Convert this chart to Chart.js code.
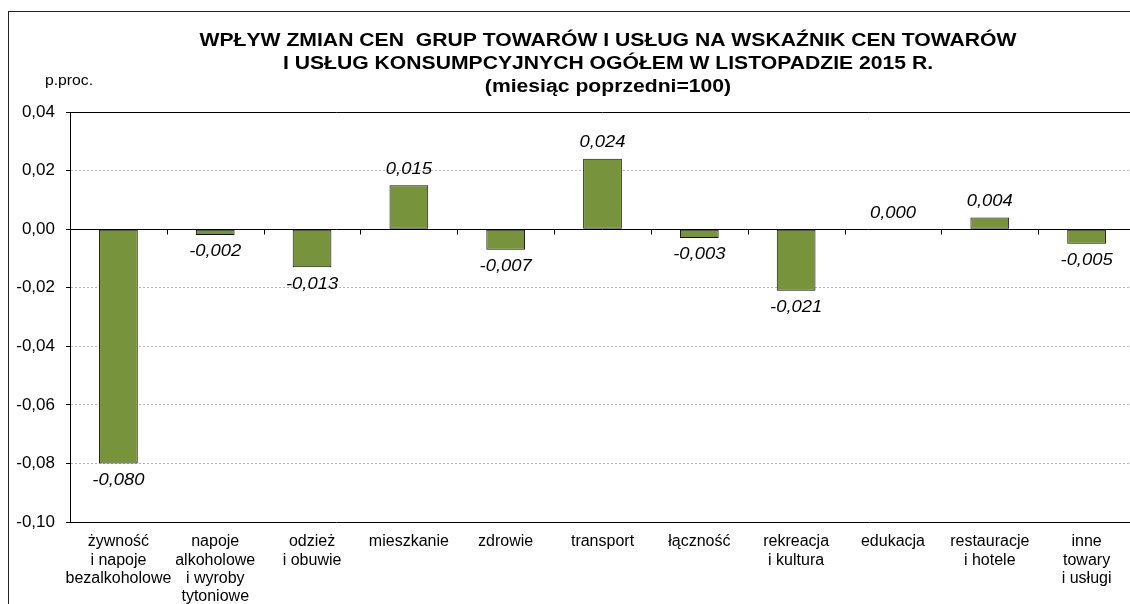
<!DOCTYPE html>
<html>
<head>
<meta charset="utf-8">
<script src="https://cdn.jsdelivr.net/npm/chart.js@4.4.0/dist/chart.umd.min.js"></script>
<style>
    html, body { margin: 0; padding: 0; overflow: hidden; background: #fff; }
    #frame { position: absolute; left: 8px; top: 11px; width: 1200px; height: 700px; border-left: 1px solid #222; border-top: 1px solid #222; }
    #wrap { position: absolute; left: 0; top: 0; width: 1140px; height: 604px; }
</style>
</head>
<body>
<div id="frame"></div>
<div id="wrap"><canvas id="myChart"></canvas></div>
<script>
const categories = [
    ['żywność', 'i napoje', 'bezalkoholowe'],
    ['napoje', 'alkoholowe', 'i wyroby', 'tytoniowe'],
    ['odzież', 'i obuwie'],
    ['mieszkanie'],
    ['zdrowie'],
    ['transport'],
    ['łączność'],
    ['rekreacja', 'i kultura'],
    ['edukacja'],
    ['restauracje', 'i hotele'],
    ['inne', 'towary', 'i usługi']
];
const values = [-0.080, -0.002, -0.013, 0.015, -0.007, 0.024, -0.003, -0.021, 0.000, 0.004, -0.005];
const titleLines = [
    'WPŁYW ZMIAN CEN  GRUP TOWARÓW I USŁUG NA WSKAŹNIK CEN TOWARÓW',
    'I USŁUG KONSUMPCYJNYCH OGÓŁEM W LISTOPADZIE 2015 R.',
    '(miesiąc poprzedni=100)'
];
const unitLabel = 'p.proc.';
const yMin = -0.10;
const yMax = 0.04;
const yStep = 0.02;

const FONT = '"Liberation Sans", Arial, sans-serif';

const fmt = (v, d) => {
    let s = v.toFixed(d);
    if (/^-0[.,]0+$/.test(s)) s = s.slice(1);
    return s.replace('.', ',');
};

// the source picture is a bit wider than tall, so text gets stretched sideways
function wideText(ctx, text, x, y, sx) {
    ctx.save();
    ctx.translate(x, y);
    ctx.scale(sx, 1);
    ctx.fillText(text, 0, 0);
    ctx.restore();
}

const decorPlugin = {
    id: 'decor',
    beforeDatasetsDraw(chart) {
        const { ctx, chartArea: a, scales: { x, y } } = chart;
        const y0 = Math.round(y.getPixelForValue(0)) + 0.5;
        const yTop = Math.round(y.getPixelForValue(yMax)) + 0.5;
        ctx.save();
        ctx.strokeStyle = '#000';
        ctx.lineWidth = 1;
        ctx.beginPath();
        ctx.moveTo(a.left, yTop);
        ctx.lineTo(a.right, yTop);
        ctx.moveTo(a.left, y0);
        ctx.lineTo(a.right, y0);
        // category tick marks on the zero line
        for (let i = 1; i < categories.length; i++) {
            const px = Math.round((x.getPixelForValue(i - 1) + x.getPixelForValue(i)) / 2) + 0.5;
            ctx.moveTo(px, y0);
            ctx.lineTo(px, y0 + 5);
        }
        ctx.stroke();
        ctx.restore();
    },
    afterDatasetsDraw(chart) {
        const { ctx } = chart;
        const meta = chart.getDatasetMeta(0);
        ctx.save();
        ctx.font = 'italic 16px ' + FONT;
        ctx.fillStyle = '#000';
        ctx.textAlign = 'center';
        ctx.textBaseline = 'middle';
        meta.data.forEach((bar, i) => {
            const v = values[i];
            const ty = v >= 0 ? bar.y - 16 : bar.y + 17;
            wideText(ctx, fmt(v, 3), bar.x, ty, 1.15);
        });
        ctx.restore();
    },
    afterDraw(chart) {
        const { ctx, chartArea: a } = chart;
        ctx.save();
        ctx.fillStyle = '#000';
        ctx.textAlign = 'center';
        ctx.textBaseline = 'middle';
        ctx.font = 'bold 18px ' + FONT;
        titleLines.forEach((t, i) => wideText(ctx, t, 608, 41 + i * 23, 1.175));
        ctx.font = '15px ' + FONT;
        wideText(ctx, unitLabel, a.left - 1, 81, 1.05);
        ctx.restore();
    }
};

const ctx = document.getElementById('myChart').getContext('2d');

const chart = new Chart(ctx, {
    type: 'bar',
    data: {
        labels: categories,
        datasets: [
            {
                data: values,
                backgroundColor: '#77933C',
                borderColor: '#111',
                borderWidth: (c) => (values[c.dataIndex] === 0 ? 0 : 1),
                borderSkipped: false,
                barPercentage: 0.4,
                categoryPercentage: 1
            }
        ]
    },
    options: {
        responsive: true,
        maintainAspectRatio: false,
        animation: false,
        layout: {
            padding: { top: 112, left: 0, right: 5, bottom: 0 }
        },
        scales: {
            x: {
                grid: {
                    display: false
                },
                border: {
                    display: true,
                    color: '#000'
                },
                ticks: {
                    color: '#000',
                    font: { family: FONT, size: 16, lineHeight: 1.13 },
                    padding: 3,
                    maxRotation: 0,
                    autoSkip: false
                },
                afterFit(scale) {
                    scale.height = 82;
                }
            },
            y: {
                min: yMin,
                max: yMax,
                grid: {
                    color: (c) => {
                        const v = Math.round(c.tick.value * 1000);
                        return (v === 0 || v === 40 || v === -100) ? 'rgba(0,0,0,0)' : '#b4b4b4';
                    },
                    tickColor: '#000',
                    tickLength: 4,
                    drawTicks: true
                },
                border: {
                    display: true,
                    color: '#000',
                    dash: [2, 2]
                },
                ticks: {
                    stepSize: yStep,
                    color: '#000',
                    padding: 11,
                    font: { family: FONT, size: 17 },
                    callback: (v) => fmt(v, 2)
                },
                afterFit(scale) {
                    scale.width = 70;
                }
            }
        },
        plugins: {
            legend: { display: false },
            tooltip: { enabled: false },
            title: { display: false }
        }
    },
    plugins: [decorPlugin]
});
</script>
</body>
</html>
